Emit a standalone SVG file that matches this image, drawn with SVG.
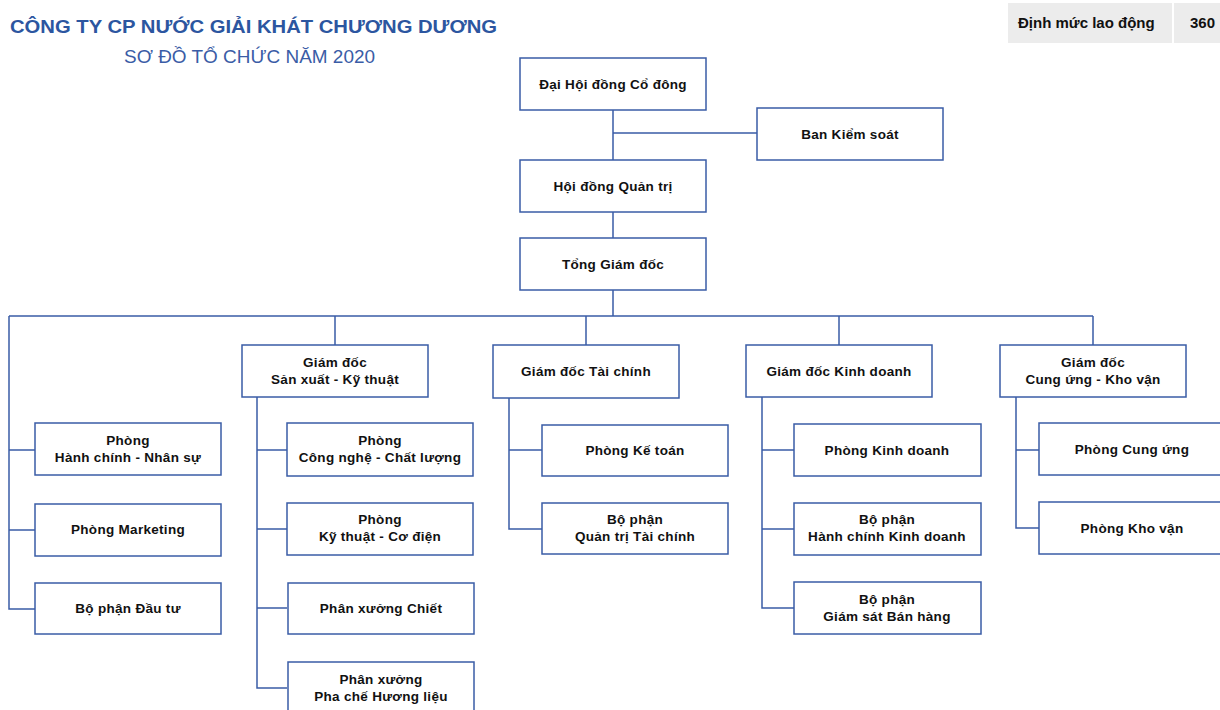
<svg xmlns="http://www.w3.org/2000/svg" width="1220" height="710" viewBox="0 0 1220 710">
<style>
.box{fill:#fff;stroke:#3a5ca6;stroke-width:1.5}
.ln{fill:none;stroke:#3a5ca6;stroke-width:1.5}
.t{font-family:"Liberation Sans",Arial,sans-serif;font-weight:bold;font-size:13.5px;fill:#111;text-anchor:middle;letter-spacing:0.3px}
.h1{font-family:"Liberation Sans",Arial,sans-serif;font-weight:bold;font-size:19px;fill:#2c56a0}
.h2{font-family:"Liberation Sans",Arial,sans-serif;font-size:19px;fill:#3a5ca6}
.hd{font-family:"Liberation Sans",Arial,sans-serif;font-weight:bold;font-size:15px;fill:#111}
</style>
<rect width="1220" height="710" fill="#fff"/>
<g id="header">
<text class="h1" x="10" y="33" textLength="487" lengthAdjust="spacingAndGlyphs">CÔNG TY CP NƯỚC GIẢI KHÁT CHƯƠNG DƯƠNG</text>
<text class="h2" x="124" y="63" textLength="251" lengthAdjust="spacingAndGlyphs">SƠ ĐỒ TỔ CHỨC NĂM 2020</text>
<rect x="1008" y="3" width="164" height="40" fill="#ececec"/>
<rect x="1174" y="3" width="46" height="40" fill="#ececec"/>
<text class="hd" x="1018" y="28">Định mức lao động</text>
<text class="hd" x="1190" y="28">360</text>
</g>
<g id="connectors">
<path class="ln" d="M613 110V238M613 133H757M613 290V316M9 316H1093M335 316V345M586 316V345M839 316V345M1093 316V345"/>
<path class="ln" d="M9 316V609H35M9 450H35M9 530H35"/>
<path class="ln" d="M257 397V688H287M257 450H287M257 529H287M257 608H287"/>
<path class="ln" d="M509 398V529H542M509 450H542"/>
<path class="ln" d="M762 397V608H794M762 450H794M762 529H794"/>
<path class="ln" d="M1016 397V528H1039M1016 450H1039"/>
</g>
<g id="n-dhdcd"><rect class="box" x="520" y="58" width="186" height="52"/><text class="t" x="613" y="89">Đại Hội đồng Cổ đông</text></g>
<g id="n-bks"><rect class="box" x="757" y="108" width="186" height="52"/><text class="t" x="850" y="139">Ban Kiểm soát</text></g>
<g id="n-hdqt"><rect class="box" x="520" y="160" width="186" height="52"/><text class="t" x="613" y="191">Hội đồng Quản trị</text></g>
<g id="n-tgd"><rect class="box" x="520" y="238" width="186" height="52"/><text class="t" x="613" y="269">Tổng Giám đốc</text></g>
<g id="n-gdsx"><rect class="box" x="242" y="345" width="186" height="52"/><text class="t" x="335" y="367">Giám đốc</text><text class="t" x="335" y="384">Sản xuất - Kỹ thuật</text></g>
<g id="n-gdtc"><rect class="box" x="493" y="345" width="186" height="53"/><text class="t" x="586" y="376">Giám đốc Tài chính</text></g>
<g id="n-gdkd"><rect class="box" x="746" y="345" width="186" height="52"/><text class="t" x="839" y="376">Giám đốc Kinh doanh</text></g>
<g id="n-gdcu"><rect class="box" x="1000" y="345" width="186" height="52"/><text class="t" x="1093" y="367">Giám đốc</text><text class="t" x="1093" y="384">Cung ứng - Kho vận</text></g>
<g id="n-hcns"><rect class="box" x="35" y="423" width="186" height="52"/><text class="t" x="128" y="445">Phòng</text><text class="t" x="128" y="462">Hành chính - Nhân sự</text></g>
<g id="n-mkt"><rect class="box" x="35" y="504" width="186" height="52"/><text class="t" x="128" y="534">Phòng Marketing</text></g>
<g id="n-dt"><rect class="box" x="35" y="583" width="186" height="51"/><text class="t" x="128" y="613">Bộ phận Đầu tư</text></g>
<g id="n-cncl"><rect class="box" x="287" y="423" width="186" height="53"/><text class="t" x="380" y="445">Phòng</text><text class="t" x="380" y="462">Công nghệ - Chất lượng</text></g>
<g id="n-ktcd"><rect class="box" x="287" y="503" width="186" height="52"/><text class="t" x="380" y="524">Phòng</text><text class="t" x="380" y="541">Kỹ thuật - Cơ điện</text></g>
<g id="n-pxc"><rect class="box" x="288" y="583" width="186" height="51"/><text class="t" x="381" y="613">Phân xưởng Chiết</text></g>
<g id="n-pxpc"><rect class="box" x="288" y="662" width="186" height="52"/><text class="t" x="381" y="684">Phân xưởng</text><text class="t" x="381" y="701">Pha chế Hương liệu</text></g>
<g id="n-kt"><rect class="box" x="542" y="425" width="186" height="51"/><text class="t" x="635" y="455">Phòng Kế toán</text></g>
<g id="n-qttc"><rect class="box" x="542" y="503" width="186" height="51"/><text class="t" x="635" y="524">Bộ phận</text><text class="t" x="635" y="541">Quản trị Tài chính</text></g>
<g id="n-pkd"><rect class="box" x="794" y="424" width="187" height="52"/><text class="t" x="887" y="455">Phòng Kinh doanh</text></g>
<g id="n-hckd"><rect class="box" x="794" y="503" width="187" height="52"/><text class="t" x="887" y="524">Bộ phận</text><text class="t" x="887" y="541">Hành chính Kinh doanh</text></g>
<g id="n-gsbh"><rect class="box" x="794" y="582" width="187" height="52"/><text class="t" x="887" y="604">Bộ phận</text><text class="t" x="887" y="621">Giám sát Bán hàng</text></g>
<g id="n-cu"><rect class="box" x="1039" y="423" width="186" height="52"/><text class="t" x="1132" y="454">Phòng Cung ứng</text></g>
<g id="n-kv"><rect class="box" x="1039" y="502" width="186" height="52"/><text class="t" x="1132" y="533">Phòng Kho vận</text></g>
</svg>
